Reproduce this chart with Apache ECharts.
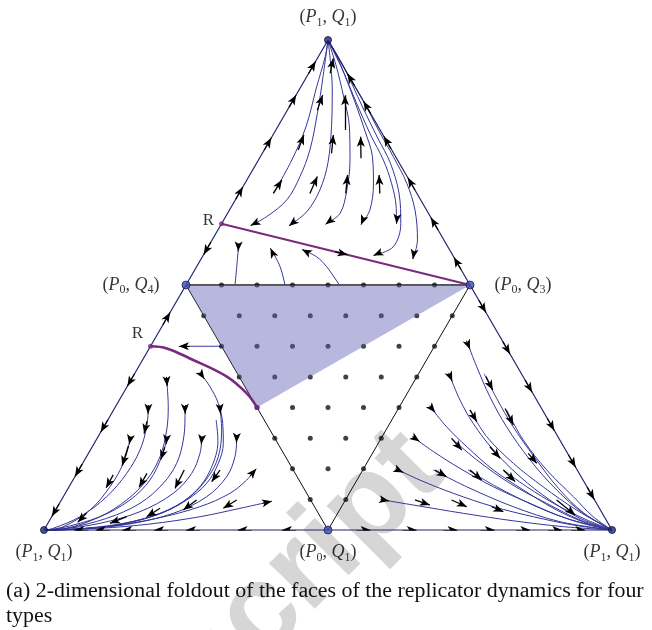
<!DOCTYPE html>
<html><head><meta charset="utf-8">
<script src="https://cdn.jsdelivr.net/npm/echarts@6.0.0/dist/echarts.min.js"></script>
<style>html,body{margin:0;padding:0;background:#fff}#c{width:652px;height:630px}</style>
</head><body><div id="c"></div>
<script>
// ---------- data (lattice units: base 0..16, height 0..16) ----------
const outerTriangle = [[0,0],[8,16],[16,0],[0,0]];
const innerEdges = [[4,8],[8,0],[12,8]];
const innerTopEdge = [[4,8],[12,8]];
const shadeVertices = [[4,8],[12,8],[6,4]];
const rLineUpper = [[5,10],[12,8]];
const rCurveLower = [[3,6],[3.46,5.93],[4.11,5.60],[5.15,5.01],[5.71,4.46],[6,4]];
const rPoints = [[5,10],[3,6],[6,4]];
const cornerVertices = [[8,16],[0,0],[16,0]];
const midVertices = [[4,8],[12,8],[8,0]];

const dotRows = [
  [8,[5,6,7,8,9,10,11]],
  [7,[4.5,5.5,6.5,7.5,8.5,9.5,10.5,11.5]],
  [6,[5,6,7,8,9,10,11]],
  [5,[5.5,6.5,7.5,8.5,9.5,10.5]],
  [4,[6,7,8,9,10]],
  [3,[6.5,7.5,8.5,9.5]],
  [2,[7,8,9]],
  [1,[7.5,8.5]]
];

const streamsTop = [
  [[6.47,11.0],[6.98,12.08],[7.38,13.17],[7.68,14.47],[7.92,15.45],[8,16]],
  [[5.85,9.96],[6.27,10.23],[6.84,10.78],[7.21,11.54],[7.49,12.41],[7.70,13.6],[7.86,14.8],[8,16]],
  [[6.93,9.96],[7.40,10.39],[7.77,11.10],[8.0,12.0],[8.10,13.2],[8.12,14.4],[8.06,15.4],[8,16]],
  [[7.96,10.01],[8.34,10.34],[8.53,11.1],[8.62,12.1],[8.60,13.2],[8.45,14.1],[8.22,15.2],[8,16]],
  [[8.95,10.01],[9.18,10.45],[9.28,11.3],[9.25,12.2],[9.05,13.0],[8.75,14.0],[8.35,15.2],[8,16]],
  [[9.32,8.98],[9.84,9.25],[10.05,10.0],[10.0,11.0],[9.75,12.0],[9.40,12.8],[8.97,13.82],[8.44,15.13],[8,16]],
  [[9.93,10.07],[9.92,10.56],[9.79,11.32],[9.56,12.08],[9.2,12.9],[8.8,13.95],[8.4,15.05],[8,16]],
  [[10.40,8.87],[10.52,9.47],[10.45,10.45],[10.22,11.32],[9.84,12.19],[9.45,13.0],[9.0,14.0],[8.5,15.0],[8,16]],
  [[5.38,8.0],[5.43,8.6],[5.47,9.14]],
  [[6.79,8.0],[6.65,8.6],[6.41,9.14]],
  [[8.32,8.0],[7.96,8.6],[7.68,8.92],[7.30,9.14]]
];

const streamsLeft = [
  [[3.456,4.898],[3.50,4.03],[3.456,3.265],[3.268,2.393],[2.893,1.633],[2.330,0.98],[1.577,0.434],[0.639,0.056],[0.03,0]],
  [[4.442,5.061],[4.676,4.679],[4.910,4.137],[5.034,3.484],[5.051,2.831],[4.910,2.178],[4.583,1.525],[4.020,0.980],[3.175,0.490],[2.048,0.163],[0.825,0.023],[0.03,0]],
  [[4.958,3.974],[5.005,3.265],[4.910,2.393],[4.628,1.741],[4.113,1.088],[3.268,0.545],[2.048,0.163],[0.825,0.023],[0.03,0]],
  [[4.85,3.59],[4.90,2.9],[4.70,2.0],[4.3,1.3],[3.6,0.7],[2.5,0.28],[1.2,0.06],[0.03,0]],
  [[3.972,3.974],[3.972,3.70],[3.924,2.939],[3.737,2.178],[3.361,1.525],[2.704,0.871],[1.766,0.381],[0.639,0.056],[0.03,0]],
  [[2.939,3.974],[2.893,3.374],[2.704,2.612],[2.330,1.851],[1.766,1.088],[1.014,0.434],[0.262,0.056],[0.03,0]],
  [[4.442,2.939],[4.394,2.504],[4.161,1.851],[3.642,1.198],[2.704,0.598],[1.577,0.219],[0.451,0.023],[0.03,0]],
  [[3.456,2.939],[3.315,2.393],[2.986,1.633],[2.423,0.980],[1.577,0.434],[0.451,0.056],[0.03,0]],
  [[2.423,2.939],[2.234,2.178],[1.859,1.414],[1.296,0.653],[0.544,0.108],[0.03,0]],
  [[5.428,2.994],[5.380,2.393],[5.146,1.741],[4.583,1.088],[3.642,0.545],[2.234,0.163],[0.825,0.023],[0.03,0]],
  [[5.944,1.959],[5.710,1.633],[5.239,1.198],[4.394,0.762],[3.175,0.381],[1.766,0.108],[0.2,0]],
  [[6.366,0.925],[5.521,0.708],[4.394,0.434],[2.986,0.196],[1.577,0.056],[0.1,0]],
  [[5.0,6.0],[3.85,6.0]]
];

const streamsRight = [
  [[11.95,6.04],[12.19,5.33],[12.56,4.35],[13.03,3.37],[13.69,2.29],[14.44,1.31],[15.19,0.545],[16,0]],
  [[12.40,5.1],[12.75,4.3],[13.2,3.4],[13.8,2.4],[14.5,1.35],[15.2,0.56],[16,0]],
  [[11.44,5.01],[11.72,4.24],[12.09,3.48],[12.66,2.61],[13.41,1.74],[14.25,0.98],[15.10,0.38],[16,0]],
  [[10.92,3.97],[11.34,3.37],[11.91,2.72],[12.66,1.96],[13.50,1.31],[14.44,0.653],[15.29,0.22],[16,0]],
  [[10.45,2.99],[10.97,2.56],[11.72,2.01],[12.66,1.41],[13.69,0.87],[14.72,0.38],[16,0]],
  [[9.98,1.96],[10.59,1.63],[11.53,1.198],[12.66,0.762],[13.78,0.434],[14.91,0.163],[16,0]],
  [[9.56,0.98],[10.40,0.816],[11.81,0.545],[13.22,0.30],[14.63,0.109],[16,0]],
  [[10.97,1.96],[11.91,1.41],[13.22,0.76],[14.54,0.27],[16,0]],
  [[11.95,1.96],[12.75,1.41],[13.88,0.76],[15.0,0.27],[16,0]],
  [[12.94,1.96],[13.60,1.41],[14.44,0.816],[15.29,0.33],[16,0]],
  [[11.48,2.99],[12.19,2.29],[13.13,1.52],[14.16,0.87],[15.10,0.33],[16,0]],
  [[12.0,3.92],[12.47,3.05],[13.22,2.18],[14.06,1.41],[15.0,0.653],[16,0]],
  [[13.03,3.92],[13.50,2.94],[14.16,1.96],[14.91,1.09],[15.47,0.434],[16,0]]
];

// arrows: [tail, tip]
const edgeArrows = [
  [[5.4,10.8],[5.6,11.2]],[[6.2,12.4],[6.4,12.8]],[[6.9,13.8],[7.1,14.2]],[[7.45,14.9],[7.65,15.3]],
  [[4.7,9.4],[4.5,9.0]],
  [[2.55,5.1],[2.35,4.7]],[[1.8,3.6],[1.6,3.2]],[[1.075,2.15],[0.875,1.75]],[[0.425,0.85],[0.225,0.45]],
  [[3.35,6.7],[3.55,7.1]],
  [[11.75,8.5],[11.55,8.9]],[[11.1,9.8],[10.9,10.2]],[[10.45,11.1],[10.25,11.5]],[[9.775,12.45],[9.575,12.85]],[[9.2,13.6],[9.0,14.0]],[[8.75,14.5],[8.55,14.9]],
  [[12.25,7.5],[12.45,7.1]],[[12.925,6.15],[13.125,5.75]],[[13.55,4.9],[13.75,4.5]],[[14.175,3.65],[14.375,3.25]],[[14.775,2.45],[14.975,2.05]],[[15.3,1.4],[15.5,1.0]],
  [[7.1,0],[6.7,0]],[[5.85,0],[5.45,0]],[[4.4,0],[4.0,0]],[[3.5,0],[3.1,0]],[[2.6,0],[2.2,0]],[[1.85,0],[1.45,0]],[[1.25,0],[0.85,0]],
  [[8.8,0],[9.2,0]],[[10.1,0],[10.5,0]],[[11.25,0],[11.65,0]],[[12.3,0],[12.7,0]],[[13.3,0],[13.7,0]],[[14.2,0],[14.6,0]],[[14.85,0],[15.25,0]]
];
const midArrows = [
  [[6.46,10.99],[6.70,11.43]],[[7.49,10.99],[7.70,11.54]],[[8.50,10.99],[8.55,11.59]],[[9.46,10.99],[9.44,11.59]],
  [[7.16,12.41],[7.32,12.9]],[[7.70,13.71],[7.85,14.2]],[[8.06,14.91],[8.15,15.4]],[[8.48,13.06],[8.48,14.2]],
  [[8.10,12.3],[8.15,12.9]],[[8.93,12.14],[8.92,12.84]],[[8.2,9.09],[8.55,8.99]],
  [[2.90,3.55],[2.82,3.15]],[[3.40,2.7],[3.29,2.3]],[[2.38,2.75],[2.20,2.1]],[[3.95,1.96],[3.69,1.36]],
  [[2.90,1.85],[2.68,1.40]],[[1.95,1.80],[1.75,1.38]],[[4.958,1.959],[4.723,1.578]],[[4.30,0.98],[3.924,0.653]],
  [[5.428,0.98],[5.051,0.708]],[[3.268,0.708],[2.893,0.434]],[[1.2,0.55],[0.95,0.25]],[[2.330,0.434],[1.859,0.219]],
  [[12.45,5.01],[12.64,4.57]],[[12.0,3.92],[12.19,3.54]],[[12.99,3.97],[13.22,3.43]],[[11.48,2.99],[11.77,2.61]],
  [[12.56,2.72],[12.85,2.34]],[[13.64,2.50],[13.88,2.18]],[[11.01,1.96],[11.34,1.74]],[[12.0,1.96],[12.33,1.63]],
  [[12.94,1.96],[13.27,1.58]],[[10.45,0.98],[10.87,0.816]],[[11.48,0.98],[11.91,0.76]],[[12.61,0.76],[12.94,0.60]],
  [[14.44,0.98],[14.96,0.49]]
];
const endArrows = [
  [[6.0,10.05],[5.82,9.94]],[[7.08,10.1],[6.90,9.93]],[[8.1,10.13],[7.93,9.98]],[[9.0,10.17],[8.93,9.97]],
  [[9.5,9.07],[9.28,8.96]],[[9.95,10.25],[9.93,10.0]],[[10.43,9.1],[10.39,8.85]],
  [[5.48,9.35],[5.47,9.1]],[[6.46,9.0],[6.38,9.2]],[[7.45,9.05],[7.27,9.16]],
  [[3.45,5.0],[3.47,4.7]],[[4.40,5.13],[4.52,4.93]],[[4.95,4.08],[4.97,3.8]],[[3.97,4.08],[3.975,3.8]],
  [[2.94,4.08],[2.93,3.8]],[[4.45,3.05],[4.43,2.8]],[[3.46,3.05],[3.44,2.8]],[[2.44,3.05],[2.40,2.8]],
  [[5.43,3.1],[5.42,2.85]],[[5.80,1.76],[5.98,2.0]],[[6.15,0.87],[6.42,0.94]],[[4.1,6.0],[3.8,6.0]],
  [[11.90,6.18],[12.0,5.9]],[[11.40,5.13],[11.50,4.86]],[[10.86,4.06],[11.02,3.84]],
  [[10.38,3.05],[10.58,2.89]],[[9.9,2.0],[10.12,1.88]],[[9.48,1.0],[9.72,0.95]]
];

const vertexLabelPoints = [[8,16],[4,8],[12,8],[0,0],[8,0],[16,0]];
const vertexLabelSubs = [['1','1'],['0','4'],['0','3'],['1','1'],['0','1'],['1','1']];
const rLabelPoints = [[5,10],[3,6]];
const captionLine1 = '(a) 2-dimensional foldout of the faces of the replicator dynamics for four';
const captionLine2 = 'types';
const watermarkText = 'Manuscript';

// ---------- styles ----------
const STREAM = '#35359a';
const SERIF = '"Liberation Serif", "DejaVu Serif", serif';

// caption size fitted to its measured width in the reference (about 637 px)
const mctx = document.createElement('canvas').getContext('2d');
mctx.font = '100px ' + SERIF;
const captionSize = Math.round(637 / mctx.measureText(captionLine1).width * 1000) / 10;

const series = [];
function addPaths(paths, color, width, z, smooth) {
  paths.forEach(p => series.push({
    type: 'line', data: p, smooth: smooth, showSymbol: false, symbol: 'none',
    lineStyle: { color: color, width: width }, z: z, silent: true, clip: false, animation: false
  }));
}
addPaths(streamsTop, STREAM, 1, 2, 0.35);
addPaths(streamsLeft, STREAM, 1, 2, 0.35);
addPaths(streamsRight, STREAM, 1, 2, 0.35);
addPaths([outerTriangle], '#22226e', 1.2, 3, false);
addPaths([innerEdges], '#111', 1, 3, false);
addPaths([innerTopEdge], '#555', 2.2, 3, false);

const dots = [];
dotRows.forEach(r => r[1].forEach(x => dots.push([x, r[0]])));
series.push({ type: 'scatter', data: dots, symbolSize: 5, itemStyle: { color: '#111' }, z: 4, silent: true, clip: false, animation: false });

series.push({
  type: 'custom', coordinateSystem: 'cartesian2d', data: [[0, 0]], z: 5, silent: true, clip: false, animation: false,
  renderItem: function (params, api) {
    return { type: 'polygon', shape: { points: shadeVertices.map(v => api.coord(v)) }, style: { fill: 'rgba(97,97,182,0.45)' } };
  }
});

addPaths([rLineUpper], '#7a2a7e', 2, 6, false);
addPaths([rCurveLower], '#7a2a7e', 2.6, 6, 0.4);
series.push({ type: 'scatter', data: rPoints, symbolSize: 5, itemStyle: { color: '#7a2a7e' }, z: 7, silent: true, clip: false, animation: false });

function arrowSeries(list, width) {
  return {
    type: 'lines', coordinateSystem: 'cartesian2d', z: 8, silent: true, animation: false,
    symbol: ['none', 'arrow'], symbolSize: [1, [6, 10]],
    lineStyle: { color: '#000', width: width, opacity: 1, curveness: 0 },
    data: list.map(a => ({ coords: a }))
  };
}
series.push(arrowSeries(edgeArrows, 1.2));
series.push(arrowSeries(midArrows, 1.3));
series.push(arrowSeries(endArrows, 1));

series.push({ type: 'scatter', data: cornerVertices, symbolSize: 7, itemStyle: { color: '#1c2a78', borderColor: '#0d0d3a', borderWidth: 1 }, z: 9, silent: true, clip: false, animation: false });
series.push({ type: 'scatter', data: midVertices, symbolSize: 8, itemStyle: { color: '#3d4fb0', borderColor: '#1a1a60', borderWidth: 1 }, z: 9, silent: true, clip: false, animation: false });

const labelPlace = [['top', 11], ['left', 26], ['right', 24], ['bottom', 11], ['bottom', 11], ['bottom', 11]];
const rich = {
  n: { fontFamily: SERIF, fontSize: 18, color: '#000', lineHeight: 22, verticalAlign: 'middle' },
  i: { fontFamily: SERIF, fontSize: 18, fontStyle: 'italic', color: '#000', lineHeight: 22, verticalAlign: 'middle' },
  s: { fontFamily: SERIF, fontSize: 12, color: '#000', verticalAlign: 'bottom' }
};
series.push({
  type: 'scatter', symbolSize: 1, itemStyle: { color: 'rgba(0,0,0,0)' }, z: 10, silent: true, clip: false, animation: false,
  data: vertexLabelPoints.map((p, k) => ({
    value: p,
    label: {
      show: true, position: labelPlace[k][0], distance: labelPlace[k][1], rich: rich,
      formatter: '{n|(}{i|P}{s|' + vertexLabelSubs[k][0] + '}{n|, }{i|Q}{s|' + vertexLabelSubs[k][1] + '}{n|)}'
    }
  }))
});
series.push({
  type: 'scatter', symbolSize: 1, itemStyle: { color: 'rgba(0,0,0,0)' }, z: 10, silent: true, clip: false, animation: false,
  data: rLabelPoints.map((p, k) => ({
    value: p,
    label: { show: true, position: 'left', distance: 7, offset: k === 0 ? [0, -3] : [0, -13], formatter: 'R',
      fontFamily: SERIF, fontSize: 17, color: '#000' }
  }))
});

const option = {
  animation: false,
  grid: { left: 44, right: 40, top: 40, bottom: 100 },
  xAxis: { type: 'value', min: 0, max: 16, show: false },
  yAxis: { type: 'value', min: 0, max: 16, show: false },
  graphic: [
    { type: 'text', x: 424, y: 452, rotation: Math.PI / 4, z: -1, silent: true,
      style: { text: watermarkText, align: 'right', verticalAlign: 'middle', fill: '#d6d6d6',
        font: 'bold 122px "Liberation Sans", Arial, sans-serif' } },
    { type: 'text', left: 6, top: 579, z: 100, silent: true,
      style: { text: captionLine1 + '\n' + captionLine2, fill: '#111', lineHeight: 25, font: captionSize + 'px ' + SERIF } }
  ],
  series: series
};
const chart = echarts.init(document.getElementById('c'));
chart.setOption(option);
</script></body></html>
